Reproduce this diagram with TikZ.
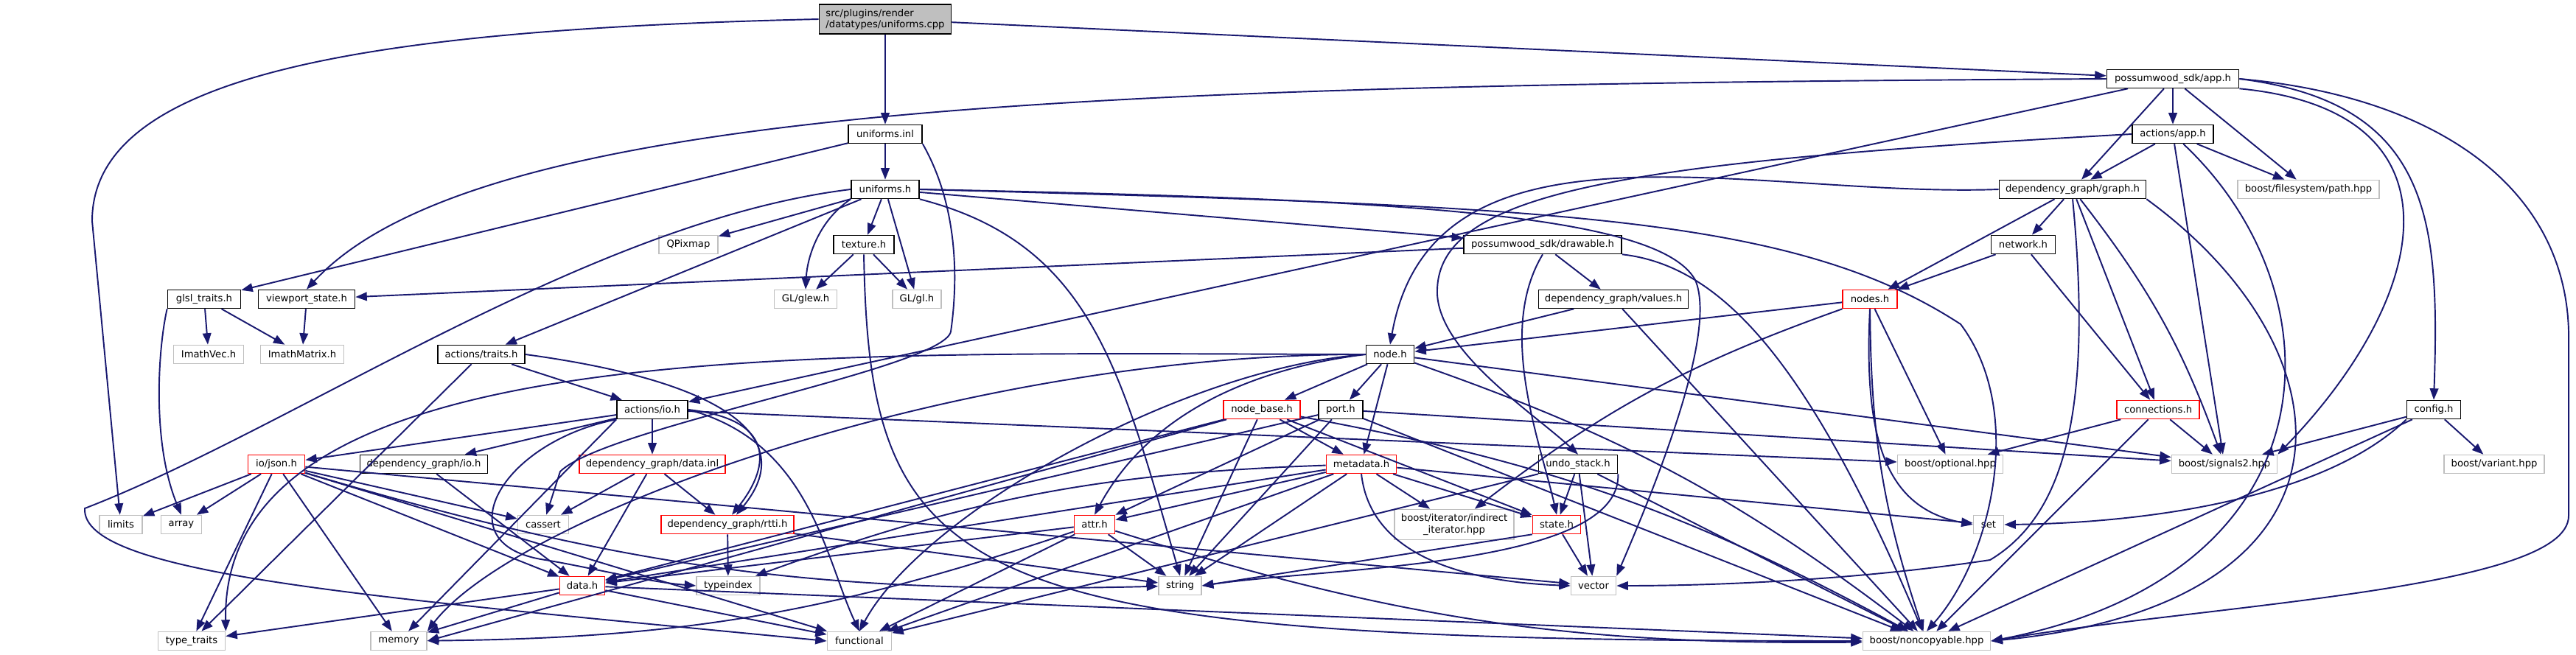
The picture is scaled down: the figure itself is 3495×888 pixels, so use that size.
\documentclass[tikz,border=0pt]{standalone}
\usepackage{fontspec}
\setmainfont{DejaVu Sans}
\usetikzlibrary{arrows.meta}
\definecolor{edgeblue}{HTML}{191970}
\definecolor{boxgrey}{HTML}{BFBFBF}

\begin{document}
\begin{tikzpicture}[
    x=0.01cm, y=-0.01cm,
    hfile/.style={draw=black, fill=white, line width=0.45pt, inner sep=0pt,
                  minimum height=0.25cm, font=\fontsize{3.75}{4.3}\selectfont},
    hred/.style={hfile, draw=red},
    hext/.style={hfile, draw=boxgrey},
    incl/.style={draw=edgeblue, line width=0.55pt,
                 -{Triangle[length=4.4pt,width=3.3pt]}}
  ]
  \fill[white] (0,0) rectangle (3495,888);
  % Files, row by row
  \node[hfile, fill=boxgrey, minimum width=1.79cm, minimum height=0.40cm, align=left]
    (root) at (1201,26) {src/plugins/render\\/datatypes/uniforms.cpp};
  \node[hfile, minimum width=1.79cm] (app) at (2948,107) {possumwood\_sdk/app.h};
  \node[hfile, minimum width=1.00cm] (uniformsinl) at (1201,182) {uniforms.inl};
  \node[hfile, minimum width=1.10cm] (actionsapp) at (2948,182) {actions/app.h};
  \node[hfile, minimum width=0.92cm] (uniformsh) at (1201,257) {uniforms.h};
  \node[hfile, minimum width=1.99cm] (graph) at (2812,257) {dependency\_graph/graph.h};
  \node[hext, minimum width=1.92cm] (fspath) at (3132,257) {boost/filesystem/path.hpp};
  \node[hext, minimum width=0.80cm] (qpixmap) at (934,332) {QPixmap};
  \node[hfile, minimum width=0.82cm] (texture) at (1172,332) {texture.h};
  \node[hfile, minimum width=2.14cm] (drawable) at (2093,332) {possumwood\_sdk/drawable.h};
  \node[hfile, minimum width=0.87cm] (network) at (2745,332) {network.h};
  \node[hfile, minimum width=0.99cm] (glsltraits) at (277,406) {glsl\_traits.h};
  \node[hfile, minimum width=1.31cm] (viewport) at (416,406) {viewport\_state.h};
  \node[hext, minimum width=0.85cm] (glew) at (1093,406) {GL/glew.h};
  \node[hext, minimum width=0.66cm] (gl) at (1244,406) {GL/gl.h};
  \node[hfile, minimum width=2.03cm] (values) at (2189,406) {dependency\_graph/values.h};
  \node[hred, minimum width=0.74cm] (nodes) at (2537,406) {nodes.h};
  \node[hext, minimum width=0.95cm] (imathvec) at (283,481) {ImathVec.h};
  \node[hext, minimum width=1.13cm] (imathmatrix) at (410,481) {ImathMatrix.h};
  \node[hfile, minimum width=1.18cm] (actionstraits) at (653,481) {actions/traits.h};
  \node[hfile, minimum width=0.65cm] (nodeh) at (1886,481) {node.h};
  \node[hfile, minimum width=0.96cm] (actionsio) at (885,556) {actions/io.h};
  \node[hred, minimum width=1.04cm] (nodebase) at (1712,556) {node\_base.h};
  \node[hfile, minimum width=0.60cm] (port) at (1819,556) {port.h};
  \node[hred, minimum width=1.12cm] (connections) at (2928,556) {connections.h};
  \node[hfile, minimum width=0.73cm] (config) at (3302,556) {config.h};
  \node[hred, minimum width=0.77cm] (json) at (375,630) {io/json.h};
  \node[hfile, minimum width=1.73cm] (dgio) at (575,630) {dependency\_graph/io.h};
  \node[hred, minimum width=1.98cm] (datainl) at (885,630) {dependency\_graph/data.inl};
  \node[hred, minimum width=0.95cm] (metadata) at (1847,630) {metadata.h};
  \node[hfile, minimum width=1.07cm] (undostack) at (2141,630) {undo\_stack.h};
  \node[hext, minimum width=1.43cm] (optional) at (2646,630) {boost/optional.hpp};
  \node[hext, minimum width=1.43cm] (signals) at (3018,630) {boost/signals2.hpp};
  \node[hext, minimum width=1.36cm] (variant) at (3384,630) {boost/variant.hpp};
  \node[hext, minimum width=0.58cm] (limits) at (164,712) {limits};
  \node[hext, minimum width=0.55cm] (array) at (246,712) {array};
  \node[hext, minimum width=0.69cm] (cassert) at (737,712) {cassert};
  \node[hred, minimum width=1.80cm] (rtti) at (987,712) {dependency\_graph/rtti.h};
  \node[hred, minimum width=0.55cm] (attr) at (1485,712) {attr.h};
  \node[hext, minimum width=1.62cm, minimum height=0.41cm, align=center]
    (indirect) at (1973,712) {boost/iterator/indirect\\\_iterator.hpp};
  \node[hred, minimum width=0.65cm] (state) at (2112,712) {state.h};
  \node[hext, minimum width=0.41cm] (set) at (2698,712) {set};
  \node[hred, minimum width=0.61cm] (datah) at (790,795) {data.h};
  \node[hext, minimum width=0.86cm] (typeindex) at (988,795) {typeindex};
  \node[hext, minimum width=0.58cm] (string) at (1601,795) {string};
  \node[hext, minimum width=0.61cm] (vector) at (2162,795) {vector};
  \node[hext, minimum width=0.91cm] (typetraits) at (260,870) {type\_traits};
  \node[hext, minimum width=0.76cm] (memory) at (541,870) {memory};
  \node[hext, minimum width=0.87cm] (functional) at (1166,870) {functional};
  \node[hext, minimum width=1.73cm] (noncopyable) at (2614,870) {boost/noncopyable.hpp};

  % Straight includes
  \foreach \a/\b in {root/uniformsinl, root/app,
      uniformsinl/uniformsh, uniformsinl/glsltraits,
      app/actionsio, app/graph, app/actionsapp, app/fspath,
      actionsapp/graph, actionsapp/fspath, actionsapp/signals,
      uniformsh/qpixmap, uniformsh/texture, uniformsh/gl, uniformsh/drawable, uniformsh/actionstraits,
      texture/glew, texture/gl, drawable/viewport, drawable/values,
      values/nodeh, values/noncopyable,
      graph/network, graph/nodes, graph/connections, network/nodes, network/connections,
      nodes/nodeh, nodes/optional,
      glsltraits/imathvec, glsltraits/imathmatrix, viewport/imathmatrix,
      actionstraits/actionsio, actionstraits/typetraits,
      actionsio/json, actionsio/dgio, actionsio/datainl, actionsio/optional,
      json/limits, json/array, json/typetraits, json/memory, json/functional,
      json/datah, json/cassert, json/vector,
      dgio/datah, datainl/cassert, datainl/datah, datainl/rtti,
      rtti/typeindex, rtti/string,
      datah/typetraits, datah/memory, datah/functional, datah/noncopyable,
      nodeh/nodebase, nodeh/port, nodeh/metadata, nodeh/signals,
      nodebase/metadata, nodebase/state, nodebase/string, nodebase/datah,
      port/attr, port/string, port/datah, port/signals, port/noncopyable,
      metadata/attr, metadata/indirect, metadata/state, metadata/string,
      metadata/set, metadata/functional, metadata/datah,
      attr/datah, attr/functional, attr/string, state/vector,
      undostack/state, undostack/vector, undostack/functional, undostack/noncopyable,
      connections/optional, connections/signals, connections/noncopyable,
      config/signals, config/variant, config/noncopyable}
    \draw[incl] (\a) -- (\b);

  % Bent includes
  \foreach \a/\b/\bend in {nodeh/noncopyable/left, nodebase/noncopyable/left,
      nodes/indirect/right, nodes/noncopyable/right, graph/signals/left,
      json/string/right, metadata/typeindex/right, attr/memory/left,
      attr/noncopyable/right}
    \draw[incl] (\a) to[bend \bend=9] (\b);

  % Routed includes
  \draw[incl] (root.west) .. controls (500,40) and (125,100) .. (125,300) -- (limits);
  \draw[incl] (app.west) .. controls (1500,115) and (650,140) .. (viewport.north);
  \draw[incl] (app.east) .. controls (3300,140) and (3310,300) .. (config.north);
  \draw[incl] (app.south east) .. controls (3350,150) and (3300,400) .. (signals.north east);
  \draw[incl] (app.east) .. controls (3300,130) and (3480,250) .. (3485,450) -- (3485,700)
    .. controls (3485,800) and (3000,820) .. (noncopyable.east);
  \draw[incl] (actionsapp.west) .. controls (2200,220) and (1945,260) .. (1950,400)
    .. controls (1955,480) and (2080,560) .. (undostack.north);
  \draw[incl] (actionsapp) .. controls (3180,400) and (3170,780) .. (noncopyable.east);
  \draw[incl] (uniformsinl.south east) .. controls (1300,280) and (1300,380) .. (1290,450)
    .. controls (1280,500) and (820,580) .. (760,640) -- (cassert);
  \draw[incl] (uniformsh.south west) .. controls (1110,300) and (1095,350) .. (glew.north);
  \draw[incl] (uniformsh.south east) .. controls (1480,330) and (1520,500) .. (string.north);
  \draw[incl] (uniformsh.east) .. controls (1900,270) and (2250,290) .. (2300,380)
    .. controls (2330,450) and (2250,650) .. (vector.north east);
  \draw[incl] (uniformsh.east) .. controls (2100,280) and (2430,290) .. (2660,440)
    .. controls (2750,560) and (2700,760) .. (noncopyable.north);
  \draw[incl] (uniformsh.west) .. controls (800,300) and (400,580) .. (115,690)
    .. controls (110,780) and (500,810) .. (functional.west);
  \draw[incl] (texture.south) .. controls (1180,800) and (1300,870) .. (noncopyable.west);
  \draw[incl] (drawable.south) .. controls (2030,450) and (2090,600) .. (state.north);
  \draw[incl] (drawable.south east) .. controls (2330,360) and (2450,480) .. (noncopyable);
  \draw[incl] (graph.west) .. controls (2380,269) and (1944,139) .. (nodeh.north);
  \draw[incl] (graph.south east) .. controls (3200,480) and (3220,820) .. (noncopyable.east);
  \draw[incl] (graph.south) .. controls (2840,560) and (2800,700) .. (2700,760)
    .. controls (2500,790) and (2300,795) .. (vector.east);
  \draw[incl] (nodes.south) .. controls (2528,600) and (2560,690) .. (set.west);
  \draw[incl] (glsltraits.south west) .. controls (215,470) and (205,600) .. (array.north);
  \draw[incl] (actionstraits.east) .. controls (1000,520) and (1080,600) .. ([xshift=0.12cm]rtti.north);
  \draw[incl] (actionsio.east) .. controls (1060,570) and (1040,640) .. ([xshift=0.06cm]rtti.north);
  \draw[incl] (actionsio.south west) .. controls (680,600) and (600,740) .. (740,760)
    .. controls (800,770) and (880,790) .. (typeindex.west);
  \draw[incl] (actionsio.east) .. controls (1100,600) and (1120,760) .. (functional.north);
  \draw[incl] (actionsio.south west) -- (memory);
  \draw[incl] (nodeh.west) .. controls (1700,500) and (1560,560) .. (attr.north);
  \draw[incl] (nodeh.west) .. controls (1600,500) and (1250,700) .. (functional.north);
  \draw[incl] (nodeh.west) .. controls (1300,480) and (700,700) .. (memory.north east);
  \draw[incl] (nodeh.west) .. controls (1100,480) and (300,450) .. (typetraits.north east);
  \draw[incl] (nodebase) -- (memory.east);
  \draw[incl] (metadata.south) .. controls (1860,760) and (2000,790) .. (vector.west);
  \draw[incl] (state.south west) -- (string.east);
  \draw[incl] (undostack.south east) .. controls (2200,770) and (1800,770) .. (string.east);
  \draw[incl] (config.south west) .. controls (3150,680) and (2900,710) .. (set.east);
\end{tikzpicture}
\end{document}
